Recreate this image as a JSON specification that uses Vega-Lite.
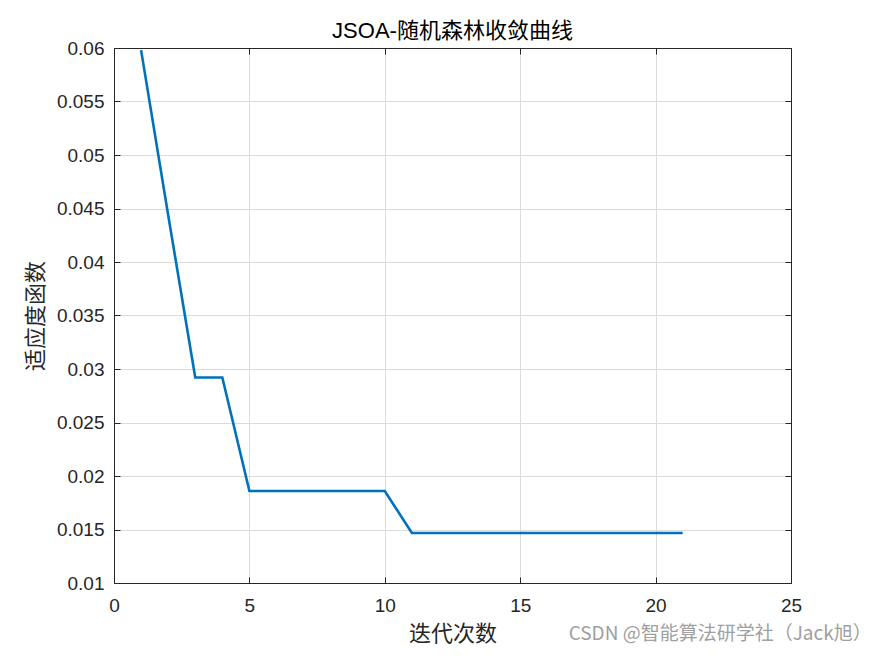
{
  "$schema": "https://vega.github.io/schema/vega-lite/v6.json",
  "autosize": {"type": "none"},
  "width": 677,
  "height": 535,
  "padding": {"left": 114, "top": 48, "right": 84, "bottom": 73},
  "background": "white",
  "title": {"text": "JSOA-随机森林收敛曲线", "fontSize": 22, "fontWeight": "normal", "font": "Liberation Sans, Noto Sans CJK SC", "color": "#000000", "offset": -4, "anchor": "middle"},
  "config": {
    "view": {"stroke": "#262626", "strokeWidth": 1},
    "axis": {
      "domainColor": "#262626",
      "tickColor": "#262626",
      "tickSize": -6,
      "labelColor": "#262626",
      "labelFont": "Liberation Sans",
      "labelFontSize": 19,
      "labelFlush": false,
      "gridColor": "#dcdcdc",
      "gridWidth": 1,
      "titleFont": "Noto Sans CJK SC",
      "titleFontSize": 22,
      "titleFontWeight": "normal",
      "titleColor": "#262626"
    }
  },
  "data": {"values": [
    {"iter": 1, "fit": 0.0598},
    {"iter": 2, "fit": 0.0444},
    {"iter": 3, "fit": 0.0292},
    {"iter": 4, "fit": 0.0292},
    {"iter": 5, "fit": 0.0186},
    {"iter": 6, "fit": 0.0186},
    {"iter": 7, "fit": 0.0186},
    {"iter": 8, "fit": 0.0186},
    {"iter": 9, "fit": 0.0186},
    {"iter": 10, "fit": 0.0186},
    {"iter": 11, "fit": 0.01467},
    {"iter": 12, "fit": 0.01467},
    {"iter": 13, "fit": 0.01467},
    {"iter": 14, "fit": 0.01467},
    {"iter": 15, "fit": 0.01467},
    {"iter": 16, "fit": 0.01467},
    {"iter": 17, "fit": 0.01467},
    {"iter": 18, "fit": 0.01467},
    {"iter": 19, "fit": 0.01467},
    {"iter": 20, "fit": 0.01467},
    {"iter": 21, "fit": 0.01467}
  ]},
  "layer": [
    {
      "mark": {"type": "line", "strokeWidth": 0, "opacity": 0},
      "encoding": {
        "x": {"field": "iter", "type": "quantitative", "scale": {"domain": [0, 25], "nice": false, "zero": false},
              "axis": {"orient": "top", "labels": false, "grid": false, "title": null, "values": [0, 5, 10, 15, 20, 25]}},
        "y": {"field": "fit", "type": "quantitative", "scale": {"domain": [0.01, 0.06], "nice": false, "zero": false},
              "axis": {"orient": "right", "labels": false, "grid": false, "title": null, "values": [0.01, 0.015, 0.02, 0.025, 0.03, 0.035, 0.04, 0.045, 0.05, 0.055, 0.06]}}
      }
    },
    {
      "mark": {"type": "line", "color": "#0072BD", "strokeWidth": 2.6},
      "encoding": {
        "x": {"field": "iter", "type": "quantitative",
              "axis": {"orient": "bottom", "title": "迭代次数", "values": [0, 5, 10, 15, 20, 25], "labelPadding": 19, "titlePadding": 8, "grid": true}},
        "y": {"field": "fit", "type": "quantitative",
              "axis": {"orient": "left", "title": "适应度函数", "values": [0.01, 0.015, 0.02, 0.025, 0.03, 0.035, 0.04, 0.045, 0.05, 0.055, 0.06], "format": "~g", "labelPadding": 16, "titlePadding": 9, "grid": true}}
      }
    },
    {
      "data": {"values": [{"iter": 27.98, "fit": 0.0052, "label": "CSDN @智能算法研学社（Jack旭）"}]},
      "mark": {"type": "text", "align": "right", "baseline": "middle", "fontSize": 19, "font": "Noto Sans CJK SC", "color": "#a0a0a0"},
      "encoding": {
        "x": {"field": "iter", "type": "quantitative", "axis": null},
        "y": {"field": "fit", "type": "quantitative", "axis": null},
        "text": {"field": "label"}
      }
    }
  ],
  "resolve": {"axis": {"x": "independent", "y": "independent"}}
}
